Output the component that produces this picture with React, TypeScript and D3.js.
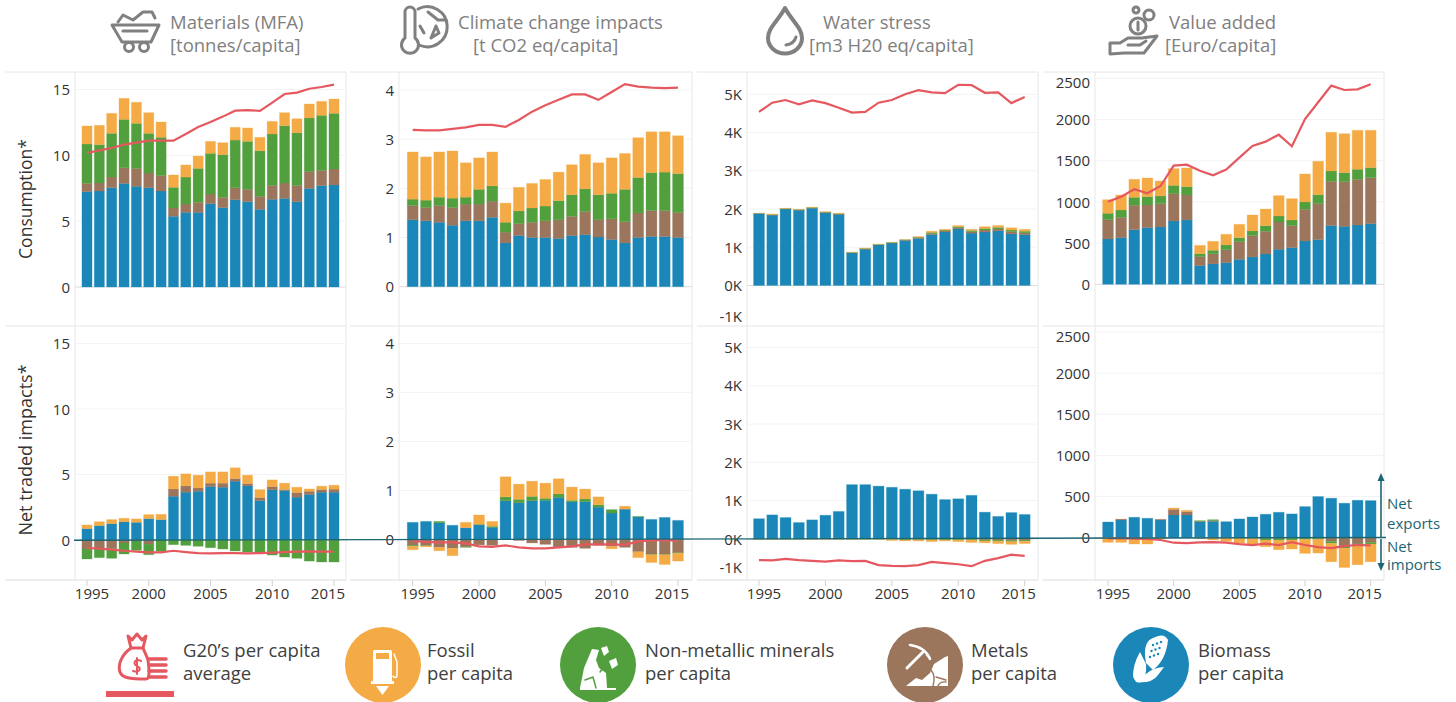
import { useEffect, useRef } from "react";
import * as d3 from "d3";

const years = d3.range(1995, 2016);
const seriesKeys = ["biomass", "metals", "minerals", "fossil"];
const colors = { biomass: "#1a87b8", metals: "#9b755c", minerals: "#529f3e", fossil: "#f4ab45" };
const lineColor = "#e5585f";
const teal = "#1c6673";
const font = "'Open Sans', sans-serif";

// Consumption row
const matBiomass = [7.24,7.29,7.54,7.87,7.65,7.54,7.29,5.37,5.67,5.67,6.33,6.03,6.63,6.48,5.9,6.66,6.73,6.48,7.49,7.7,7.75];
const matMetals = [.63,.61,.81,1.19,1.36,1.12,1.17,.63,.63,.76,.73,.78,.91,.94,.99,1.06,1.17,1.24,1.27,1.16,1.21];
const matMinerals = [2.99,2.91,3.32,3.67,3.42,3.01,2.91,1.57,2.05,2.58,3.09,3.24,3.62,3.64,3.46,3.9,4.35,4.0,4.08,4.18,4.23];
const matFossil = [1.37,1.47,1.52,1.6,1.6,1.57,1.16,.94,.92,.94,.91,.91,.97,1.02,1.02,.96,.99,1.06,1.06,1.06,1.09];
const matAvg = [10.18,10.38,10.56,10.81,10.96,11.11,11.11,11.11,11.62,12.15,12.53,12.94,13.39,13.44,13.37,14,14.66,14.76,15.06,15.19,15.37];

const co2Biomass = [1.36,1.34,1.31,1.25,1.34,1.34,1.41,.89,1.04,1.0,1.0,.98,1.04,1.06,1.01,.96,.89,1.0,1.02,1.02,1.0];
const co2Metals = [.29,.27,.34,.36,.34,.34,.33,.22,.24,.31,.34,.38,.39,.47,.35,.42,.43,.5,.53,.53,.51];
const co2Minerals = [.13,.15,.17,.19,.14,.3,.31,.2,.26,.29,.3,.39,.44,.46,.51,.52,.66,.72,.77,.78,.79];
const co2Fossil = [.96,.88,.92,.96,.7,.64,.69,.39,.48,.5,.54,.58,.61,.7,.65,.72,.73,.81,.83,.82,.77];
const co2Avg = [3.19,3.18,3.18,3.21,3.24,3.29,3.29,3.25,3.39,3.56,3.69,3.8,3.91,3.91,3.8,3.96,4.12,4.07,4.05,4.04,4.05];

const waterBiomass = [1880,1840,2000,1970,2020,1900,1860,850,950,1060,1110,1180,1230,1330,1400,1480,1370,1400,1430,1350,1330];
const waterMetals = [3,10,5,10,5,15,10,5,10,5,5,10,20,30,30,30,40,50,50,60,50];
const waterMinerals = [3,5,5,5,15,5,10,10,10,10,10,5,15,30,20,30,30,40,40,40,40];
const waterFossil = [4,15,10,5,10,10,10,5,10,5,5,5,15,30,20,30,30,50,50,60,50];
const waterAvg = [4540,4780,4850,4740,4840,4770,4650,4520,4540,4780,4850,5000,5110,5050,5030,5250,5240,5040,5050,4770,4930];

const vaBiomass = [550,566,663,688,696,769,781,227,247,263,303,332,368,425,445,526,542,712,704,720,736];
const vaMetals = [235,247,296,275,283,331,303,109,125,158,215,259,275,331,267,384,437,538,542,554,558];
const vaMinerals = [77,89,97,101,93,101,101,36,41,56,48,56,69,73,69,89,109,125,109,122,122];
const vaFossil = [165,182,218,226,182,203,227,101,109,130,162,194,202,247,259,340,405,470,473,473,453];
const vaAvg = [1003,1064,1153,1104,1193,1440,1452,1379,1323,1392,1537,1679,1731,1816,1675,2006,2209,2411,2358,2366,2427];

// Net traded row (negative = net imports)
const netMatBiomass = [.87,1.1,1.25,1.4,1.35,1.63,1.56,3.34,3.65,3.72,4.08,4.03,4.49,4.13,3.01,3.83,3.78,3.27,3.47,3.65,3.65];
const netMatMetals = [-.69,-.64,-.66,-.23,-.05,-.31,0,.56,.48,.26,.26,.31,.2,.18,.23,.25,.07,.35,.25,.2,.23];
const netMatMinerals = [-.76,-.71,-.74,-.84,-.74,-.81,-.87,-.36,-.41,-.48,-.59,-.69,-.84,-.92,-.92,-1.15,-1.3,-1.4,-1.61,-1.68,-1.68];
const netMatFossil = [.28,.3,.31,.26,.26,.31,.4,.97,.92,.97,.86,.86,.82,.64,.61,.51,.49,.41,.18,.26,.3];
const netMatAvg = [-.61,-.66,-.74,-.82,-.89,-.94,-.94,-.82,-.92,-1.0,-1.02,-1.0,-1.0,-1.02,-1.0,-.97,-.92,-.89,-.87,-.89,-.89];

const netCo2Biomass = [.35,.37,.34,.29,.24,.3,.25,.79,.75,.79,.8,.86,.77,.77,.66,.54,.62,.46,.41,.45,.39];
const netCo2Metals = [-.12,-.12,-.16,-.18,-.15,-.11,-.12,0,-.02,-.07,-.1,-.15,-.16,-.18,-.12,-.14,-.16,-.25,-.3,-.3,-.27];
const netCo2Minerals = [-.02,-.01,.03,0,-.01,.01,.02,.08,.07,.09,.04,.07,.03,.06,.05,.07,0,.01,-.01,-.01,-.01];
const netCo2Fossil = [-.07,-.02,-.07,-.15,.11,.19,.1,.41,.31,.31,.31,.31,.27,.2,.16,-.05,.06,-.12,-.16,-.2,-.16];
const netCo2Avg = [-.03,-.05,-.06,-.06,-.08,-.14,-.15,-.12,-.16,-.18,-.18,-.16,-.14,-.1,-.1,-.1,-.11,-.04,-.02,-.01,-.03];

const netWaterBiomass = [530,630,560,430,500,620,720,1420,1420,1380,1350,1300,1260,1170,1030,1050,1140,700,590,690,640];
const netWaterMetals = [0,0,0,0,0,0,0,0,0,0,0,-5,-5,-10,-5,-10,-10,-20,-30,-40,-30];
const netWaterMinerals = [-5,-5,-5,-5,-5,0,-5,-5,-5,-5,-10,-20,-15,-20,-20,-20,-20,-30,-30,-30,-30];
const netWaterFossil = [-5,-5,-5,-5,-5,-10,-5,-5,-5,-5,-30,-25,-30,-40,-25,-40,-60,-50,-60,-70,-60];
const netWaterAvg = [-550,-560,-520,-550,-570,-590,-560,-580,-570,-680,-700,-710,-680,-600,-630,-660,-710,-570,-500,-410,-440];

const netVaBiomass = [191,215,248,236,215,276,276,191,199,195,228,252,285,309,289,378,500,480,419,455,451];
const netVaMetals = [0,10,0,0,8,69,41,8,8,0,0,0,-8,-12,-8,-4,-8,-45,-110,-75,-57];
const netVaMinerals = [0,0,0,-4,-4,0,0,8,12,0,-4,-8,-20,-20,-20,-16,-12,-24,-16,-12,-20];
const netVaFossil = [-57,-57,-77,-73,-12,16,16,-12,-28,-45,-61,-69,-82,-114,-110,-171,-167,-224,-236,-242,-216];
const netVaAvg = [-8,-8,-12,-16,-28,-61,-65,-57,-53,-61,-77,-89,-73,-89,-53,-89,-114,-126,-102,-89,-93];

const matTicks = [0, 5, 10, 15];
const co2Ticks = [0, 1, 2, 3, 4];
const waterTicks = [-1000, 0, 1000, 2000, 3000, 4000, 5000];
const vaTicks = [0, 500, 1000, 1500, 2000, 2500];
const yearTicks = [1995, 2000, 2005, 2010, 2015];

const toRows = (a: number[], b: number[], c: number[], d: number[]) =>
  years.map((year, i) => ({ year, biomass: a[i], metals: b[i], minerals: c[i], fossil: d[i] }));

const panels = [
  {
    cell: [5, 346], plot: 75, first: 87, last: 334, ticks: matTicks, max: 15,
    zero: [287, 540], top: [89.5, 343.5],
    rows: [toRows(matBiomass, matMetals, matMinerals, matFossil), toRows(netMatBiomass, netMatMetals, netMatMinerals, netMatFossil)],
    avg: [matAvg, netMatAvg], fmt: (v: number) => `${v}`,
  },
  {
    cell: [350, 692], plot: 399, first: 412.7, last: 678, ticks: co2Ticks, max: 4,
    zero: [286.7, 539.5], top: [90, 343.5],
    rows: [toRows(co2Biomass, co2Metals, co2Minerals, co2Fossil), toRows(netCo2Biomass, netCo2Metals, netCo2Minerals, netCo2Fossil)],
    avg: [co2Avg, netCo2Avg], fmt: (v: number) => `${v}`,
  },
  {
    cell: [697, 1038], plot: 747, first: 759, last: 1024.7, ticks: waterTicks, max: 5000,
    zero: [285.5, 539], top: [94.3, 347.5],
    rows: [toRows(waterBiomass, waterMetals, waterMinerals, waterFossil), toRows(netWaterBiomass, netWaterMetals, netWaterMinerals, netWaterFossil)],
    avg: [waterAvg, netWaterAvg], fmt: (v: number) => `${v / 1000}K`,
  },
  {
    cell: [1043, 1384], plot: 1095, first: 1108, last: 1370.7, ticks: vaTicks, max: 2500,
    zero: [284.3, 537.7], top: [78.3, 332],
    rows: [toRows(vaBiomass, vaMetals, vaMinerals, vaFossil), toRows(netVaBiomass, netVaMetals, netVaMinerals, netVaFossil)],
    avg: [vaAvg, netVaAvg], fmt: (v: number) => `${v}`,
  },
];

const rowTop = [72, 326];
const rowBottom = [326, 580];

const titles = [
  { a: "Materials (MFA)", ax: 170, b: "[tonnes/capita]", bx: 170 },
  { a: "Climate change impacts", ax: 458, b: "[t CO2 eq/capita]", bx: 473 },
  { a: "Water stress", ax: 823, b: "[m3 H20 eq/capita]", bx: 809 },
  { a: "Value added", ax: 1169, b: "[Euro/capita]", bx: 1165 },
];

const legendItems = [
  { a: "G20’s per capita", b: "average", x: 183 },
  { a: "Fossil", b: "per capita", x: 427 },
  { a: "Non-metallic minerals", b: "per capita", x: 645 },
  { a: "Metals", b: "per capita", x: 971 },
  { a: "Biomass", b: "per capita", x: 1198 },
];

const grey = "#808080";

const Icons = () => (
  <g fill="none" strokeLinecap="round" strokeLinejoin="round">
    {/* cart */}
    <g stroke={grey} strokeWidth={3}>
      <path d="M118 22 L123 15 L133 20 L143 12 L152 12 L155 18" />
      <path d="M112 25 H159 L151 42 H122 Z" />
      <path d="M123 31 H147" />
      <circle cx={129} cy={47} r={4.5} />
      <circle cx={144} cy={47} r={4.5} />
    </g>
    {/* thermometer and globe */}
    <g stroke={grey} strokeWidth={3}>
      <path d="M405 38 V12 A5 5 0 0 1 415 12 V38 A8.5 8.5 0 1 1 405 38 Z" />
      <path d="M418 9 A20 20 0 1 1 419 45" />
      <path d="M428 12 L438 20 L446 20 M436 26 L431 38 L439 33 Z M420 26 L424 33" />
    </g>
    {/* drop */}
    <g stroke={grey} strokeWidth={4}>
      <path d="M785 8 C778 21 768 28 768 38 A17 15.5 0 0 0 802 38 C802 28 792 21 785 8 Z" />
      <path d="M786 45 Q794 44 796 37" strokeWidth={3} />
    </g>
    {/* hand and coins */}
    <g stroke={grey} strokeWidth={3}>
      <circle cx={1138} cy={26} r={8} />
      <path d="M1138 22 V30" />
      <circle cx={1149} cy={15} r={5} />
      <circle cx={1136} cy={10} r={3} />
      <path d="M1110 54 V43 H1120 L1128 38 H1142 L1157 36 L1144 53 H1124 Z" />
      <path d="M1128 45 H1140 L1146 41" />
    </g>
    {/* money bag */}
    <g stroke={lineColor} strokeWidth={3}>
      <path d="M128 636 L132 640 L137 634 L142 640 L146 636 L143 648 H131 Z" />
      <path d="M131 648 C120 656 118 666 120 672 C122 678 130 679 146 679 C149 679 150 675 148 660 C146 654 144 651 143 648" />
      <path d="M137 658 V674 M141 661 C135 658 132 664 137 666 C142 668 140 673 133 671" strokeWidth={2} />
      <path d="M149 659 H166 M149 665 H166 M149 671 H166 M149 677 H166" strokeWidth={3.5} />
    </g>
    <rect x={106} y={691} width={68} height={6} fill={lineColor} stroke="none" />

    {/* fossil */}
    <circle cx={383} cy={665} r={38} fill={colors.fossil} stroke="none" />
    <g fill="#fff" stroke="none">
      <rect x={373} y={650} width={19} height={32} rx={1.5} />
      <rect x={371} y={681} width={23} height={3} />
      <path d="M376 686 H389 L382.5 695 Z" />
    </g>
    <rect x={376} y={653} width={13} height={6} fill={colors.fossil} />
    <path d="M394 654 L397 662 V676 Q395 679 393 676" stroke="#fff" strokeWidth={1.5} />

    {/* minerals */}
    <circle cx={598} cy={665} r={38} fill={colors.minerals} stroke="none" />
    <g fill="#fff" stroke="none">
      <path d="M580 688 L584 668 L592 649 L599 650 L596 660 L599 668 L606 673 L607 688 H616 V690 H580 Z" />
      <path d="M601 648 L607 646 L609 652 L604 656 Z" />
      <path d="M609 661 L616 658 L618 665 L612 669 Z" />
    </g>
    <path d="M585 680 L593 677 L596 688 M600 672 L605 665 L603 658" stroke={colors.minerals} strokeWidth={1.5} />

    {/* metals */}
    <circle cx={925} cy={665} r={38} fill={colors.metals} stroke="none" />
    <g fill="#fff" stroke="none">
      <path d="M906 686 L916 678 L922 680 L930 673 L934 664 L945 657 L948 656 V686 Z" />
      <circle cx={927} cy={655} r={1.3} />
      <circle cx={930} cy={658} r={1.1} />
    </g>
    <path d="M907 668 L924 651" stroke="#fff" strokeWidth={3} />
    <path d="M910 645 Q925 647 930 659" stroke="#fff" strokeWidth={2.5} />
    <path d="M933 686 Q936 676 931 670 M936 677 L946 680 M938 686 Q940 681 946 682" stroke={colors.metals} strokeWidth={1.4} />

    {/* biomass */}
    <circle cx={1151} cy={665} r={38} fill={colors.biomass} stroke="none" />
    <g fill="#fff" stroke="none">
      <path d="M1146 663 Q1142 642 1153 638 Q1164 632 1168 640 Q1166 660 1153 670 Z" />
      <path d="M1140 652 Q1133 664 1133 676 Q1135 684 1142 682 Q1147 676 1146 664 Z" />
      <path d="M1135 682 Q1152 684 1158 675 L1164 667 Q1152 668 1146 674 Q1140 680 1135 682 Z" />
    </g>
    <g fill={colors.biomass} stroke="none">
      {[0, 1, 2].map((r) =>
        [0, 1, 2].map((c) => <circle key={`${r}${c}`} cx={1153 + c * 4 + r * -1.5} cy={645 + r * 6 - c * 1.5} r={1.2} />)
      )}
    </g>
  </g>
);

const App = () => {
  const ref = useRef<SVGGElement>(null);

  useEffect(() => {
    const root = d3.select(ref.current);
    root.selectAll("*").remove();

    panels.forEach((p) => {
      const step = (p.last - p.first) / 20;
      const x = d3
        .scaleBand<number>()
        .domain(years)
        .range([p.first - step / 2, p.last + step / 2])
        .paddingInner(0.18)
        .paddingOuter(0.09);

      p.rows.forEach((rows, r) => {
        const g = root.append("g");
        const y = d3.scaleLinear().domain([0, p.max]).range([p.zero[r], p.top[r]]);

        // panel frame
        g.selectAll("line.frame")
          .data([p.plot, p.cell[1]])
          .join("line")
          .attr("x1", (d) => d)
          .attr("x2", (d) => d)
          .attr("y1", rowTop[r])
          .attr("y2", rowBottom[r])
          .attr("stroke", "#e8e8e8");
        g.append("line")
          .attr("x1", p.cell[0])
          .attr("x2", p.cell[1])
          .attr("y1", rowTop[r])
          .attr("y2", rowTop[r])
          .attr("stroke", "#e6e6e6");

        // grid
        g.selectAll("line.grid")
          .data(p.ticks.filter((t) => t >= 0))
          .join("line")
          .attr("x1", p.plot)
          .attr("x2", p.cell[1])
          .attr("y1", (d) => y(d))
          .attr("y2", (d) => y(d))
          .attr("stroke", (d) => (d === 0 ? "#dcdcdc" : "#f3f3f3"));

        // y axis
        const yAxis = g
          .append("g")
          .attr("transform", `translate(${p.plot},0)`)
          .call(d3.axisLeft(y).tickValues(p.ticks).tickSize(0).tickPadding(5).tickFormat((d) => p.fmt(+d)));
        yAxis.select(".domain").remove();
        yAxis
          .selectAll<SVGTextElement, number>("text")
          .attr("font-family", font)
          .attr("font-size", 15)
          .attr("fill", "#333")
          .attr("dy", (d) => {
            if (d === -1000) return r === 0 ? "-0.18em" : "-0.3em";
            if (d === 2500) return "0.62em";
            return "0.34em";
          });

        // stacked bars, negatives go below zero
        const stacked = d3
          .stack<any>()
          .keys(seriesKeys)
          .offset(d3.stackOffsetDiverging)(rows);
        stacked.forEach((s) => {
          g.append("g")
            .selectAll("rect")
            .data(s)
            .join("rect")
            .attr("x", (d: any) => x(d.data.year)!)
            .attr("width", x.bandwidth())
            .attr("y", (d) => y(Math.max(d[0], d[1])))
            .attr("height", (d) => Math.abs(y(d[0]) - y(d[1])))
            .attr("fill", (colors as any)[s.key])
            .attr("stroke", (colors as any)[s.key])
            .attr("stroke-opacity", 0.25)
            .attr("stroke-width", 1);
        });

        // G20 average line
        const line = d3
          .line<number>()
          .x((_, i) => x(years[i])! + x.bandwidth() / 2)
          .y((d) => y(d));
        g.append("path")
          .attr("d", line(p.avg[r]))
          .attr("fill", "none")
          .attr("stroke", lineColor)
          .attr("stroke-width", 2.2);

        if (r === 1) {
          // x axis
          const xAxis = g
            .append("g")
            .attr("transform", `translate(0,${rowBottom[1]})`)
            .call(d3.axisBottom(x).tickValues(yearTicks).tickSize(6).tickPadding(2));
          xAxis.select(".domain").remove();
          xAxis.selectAll(".tick line").attr("stroke", "#d0d0d0");
          xAxis
            .selectAll<SVGTextElement, number>("text")
            .attr("font-family", font)
            .attr("font-size", 15)
            .attr("fill", "#333")
            .attr("dx", (d) => (d === 1995 ? 5 : d === 2015 ? -6 : 0));
          g.append("line")
            .attr("x1", p.cell[0])
            .attr("x2", p.cell[1])
            .attr("y1", rowBottom[1])
            .attr("y2", rowBottom[1])
            .attr("stroke", "#dcdcdc");
        }
      });
    });
  }, []);

  return (
    <svg
      width={1456}
      height={702}
      style={{ position: "absolute", left: 0, top: 0, display: "block", background: "#fff" }}
      fontFamily={font}
    >
      <g ref={ref} />

      {/* zero line running through the net traded row */}
      <line x1={74} x2={1386} y1={540.3} y2={537.5} stroke={teal} strokeWidth={1.4} />

      {titles.map((t) => (
        <g key={t.a} fontSize={18.5} fill={grey}>
          <text x={t.ax} y={29}>{t.a}</text>
          <text x={t.bx} y={52}>{t.b}</text>
        </g>
      ))}

      <text transform="translate(32,199) rotate(-90)" textAnchor="middle" fontSize={17.5} fill="#333">
        Consumption*
      </text>
      <text transform="translate(32,450) rotate(-90)" textAnchor="middle" fontSize={18} fill="#333">
        Net traded impacts*
      </text>

      {/* net exports / imports arrows */}
      <g stroke={teal} fill={teal}>
        <line x1={1381} x2={1381} y1={480} y2={537} strokeWidth={1.6} />
        <line x1={1381} x2={1381} y1={539} y2={565} strokeWidth={1.6} />
        <path d="M1381 473 L1377.5 481 H1384.5 Z" stroke="none" />
        <path d="M1381 571 L1377.5 563 H1384.5 Z" stroke="none" />
      </g>
      <g fontSize={15} fill={teal}>
        <text x={1387} y={509}>Net</text>
        <text x={1387} y={528.5}>exports</text>
        <text x={1387} y={552}>Net</text>
        <text x={1387} y={570}>imports</text>
      </g>

      <Icons />

      {legendItems.map((l) => (
        <g key={l.a} fontSize={18.5} fill="#404040">
          <text x={l.x} y={657}>{l.a}</text>
          <text x={l.x} y={680}>{l.b}</text>
        </g>
      ))}
    </svg>
  );
};

export default App;
